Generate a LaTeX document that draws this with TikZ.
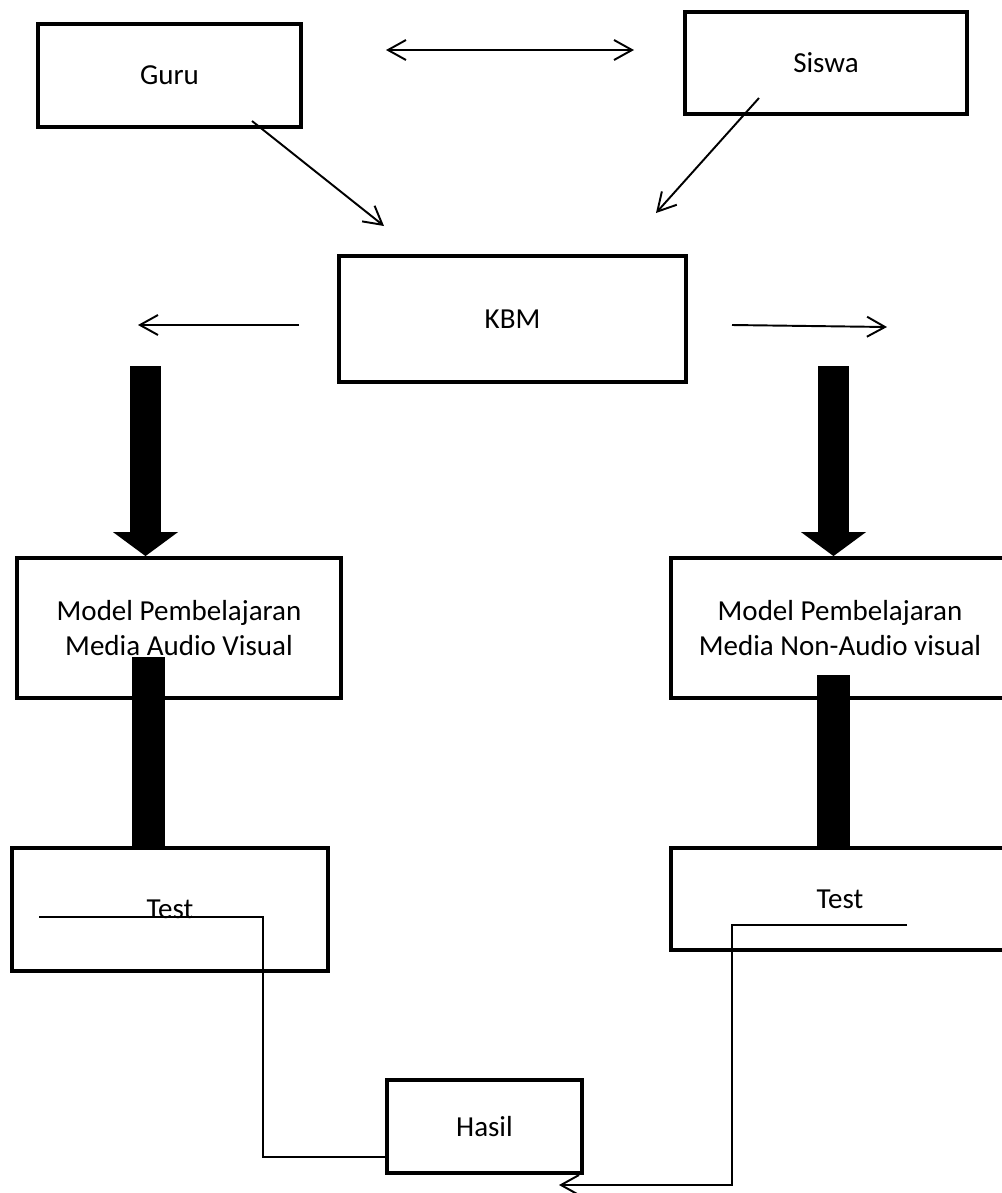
\documentclass[tikz,border=0pt]{standalone}
\usepackage{fontspec}
\setmainfont{Carlito}
\usetikzlibrary{arrows.meta}

\tikzset{
  kotak/.style={draw, line width=2.2pt, align=center, inner sep=0pt,
    font=\fontsize{16.5}{20}\selectfont},
  tipis/.style={line width=1.1pt},
  panah/.style={tipis, -{Straight Barb[length=3.6mm,width=4mm]}},
  tebal/.style={line width=0.62cm, -{Triangle[width=1.3cm,length=0.48cm,line width=0pt]}},
  batang/.style={line width=0.65cm}
}

\begin{document}
\begin{tikzpicture}
  \useasboundingbox (0,0) rectangle (20.04,-23.86);

  \node[kotak, minimum width=5.26cm, minimum height=2.06cm] (guru) at (3.39,-1.51) {Guru};
  \node[kotak, minimum width=5.64cm, minimum height=2.04cm] (siswa) at (16.52,-1.26) {Siswa};
  \node[kotak, minimum width=6.94cm, minimum height=2.52cm] (kbm) at (10.25,-6.38) {KBM};
  \node[kotak, minimum width=6.48cm, minimum height=2.80cm] (mav) at (3.58,-12.56)
    {Model Pembelajaran\\Media Audio Visual};
  \node[kotak, minimum width=6.76cm, minimum height=2.80cm] (mnav) at (16.80,-12.56)
    {Model Pembelajaran\\Media Non-Audio visual};
  \node[kotak, minimum width=6.32cm, minimum height=2.46cm] (testl) at (3.40,-18.19) {Test};
  \node[kotak, minimum width=6.76cm, minimum height=2.04cm] (testr) at (16.80,-17.98) {Test};
  \node[kotak, minimum width=3.90cm, minimum height=1.86cm] (hasil) at (9.69,-22.53) {Hasil};

  \coordinate (gs1) at (7.72,-1.00);
  \coordinate (gs2) at (12.68,-1.00);
  \coordinate (g1) at (5.04,-2.42);
  \coordinate (g2) at (7.68,-4.52);
  \coordinate (s1) at (15.18,-1.96);
  \coordinate (s2) at (13.12,-4.26);
  \coordinate (k1) at (5.98,-6.50);
  \coordinate (k2) at (2.76,-6.50);
  \coordinate (k3) at (14.64,-6.50);
  \coordinate (k4) at (17.74,-6.54);

  \draw[panah, {Straight Barb[length=3.6mm,width=4mm]}-{Straight Barb[length=3.6mm,width=4mm]}] (gs1) -- (gs2);
  \draw[panah] (g1) -- (g2);
  \draw[panah] (s1) -- (s2);
  \draw[panah] (k1) -- (k2);
  \draw[panah] (k3) -- (k4);

  \coordinate (tl) at (2.91,-7.32);
  \coordinate (tr) at (16.67,-7.32);
  \draw[tebal] (tl) -- (tl |- mav.north);
  \draw[tebal] (tr) -- (tr |- mnav.north);

  \coordinate (bl) at (2.97,-13.14);
  \coordinate (br) at (16.67,-13.50);
  \draw[batang] (bl) -- (bl |- testl.north);
  \draw[batang] (br) -- (br |- testr.north);

  \coordinate (hl1) at (0.78,-18.34);
  \coordinate (hl2) at (5.26,-23.14);
  \draw[tipis] (hl1) -| (hl2) -- (hl2 -| hasil.west);

  \coordinate (hr1) at (18.14,-18.50);
  \coordinate (hr2) at (14.64,-23.70);
  \coordinate (hr3) at (11.18,-23.70);
  \draw[panah] (hr1) -| (hr2) -- (hr3);
\end{tikzpicture}
\end{document}
